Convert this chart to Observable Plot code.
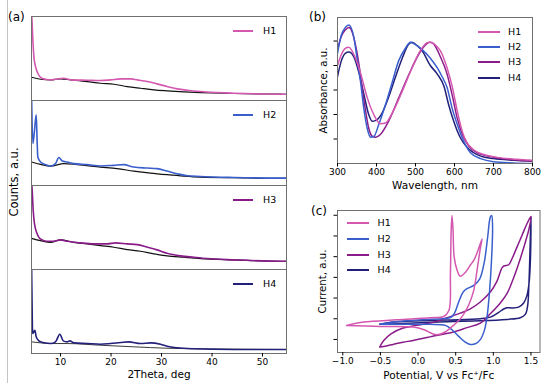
<!DOCTYPE html>
<html><head><meta charset="utf-8">
<script src="https://cdn.jsdelivr.net/npm/d3@7"></script>
<script src="https://cdn.jsdelivr.net/npm/@observablehq/plot@0.6"></script>
<style>
body{margin:0;background:#fff;}
#root{position:relative;width:550px;height:392px;overflow:hidden;font-family:"DejaVu Sans",sans-serif;color:#000;}
.abs{position:absolute;}
.txt{position:absolute;white-space:nowrap;line-height:1;}
</style></head><body><div id="root"></div>
<script>
// ---------- names ----------
const series = ["H1", "H2", "H3", "H4"];

// ---------- (a) XRD: [2theta (deg), counts (a.u.)] ----------
const xrdTicks = [10, 20, 30, 40, 50];
const xrdH1 = [[4.26,90],[4.52,60.7],[4.72,44],[5.05,34],[5.5,27.3],[6.04,23.3],[7.03,21.3],[8.02,20.7],[9.0,21.3],[10.0,22],[10.6,22.3],[12,20.7],[15.3,20.3],[17.9,20],[19.9,20.7],[21.9,21.7],[23.9,21.7],[25.2,20.7],[27.2,19],[29.1,16.7],[31.1,14],[33.1,11.7],[35.1,10.3],[37.7,9],[41,8],[44.3,7.3],[48.3,6.7],[53.6,6.3],[54.75,6.2]];
const xrdH1ref = [[4.26,23.3],[6.04,21.3],[8.02,20.7],[10,21.7],[12,20.7],[15.3,19],[17.9,17.3],[20.56,16.3],[23.2,14],[25.84,12.3],[28.5,10.7],[31.1,9.7],[34.4,8.7],[37.7,8],[44.3,7],[53.6,6.3],[54.75,6.2]];
const xrdH2 = [[4.26,90],[4.52,41.7],[4.79,51.7],[5.18,70],[5.38,41.7],[5.5,28.3],[6.04,23.3],[7.03,20.7],[8.02,19.3],[9.0,21.7],[9.67,27.7],[10.33,24.3],[11.32,23.3],[12.64,21.7],[15.3,20.7],[17.9,19.3],[20.56,20],[22.5,20.7],[24.5,18.3],[27.2,17.3],[29.1,16.7],[31.1,14.3],[33.1,11.7],[35.1,9.7],[37.7,9],[44.3,8],[53.6,7.3],[54.75,7.3]];
const xrdH2ref = [[4.26,23.3],[6.04,21],[8.02,19.3],[10.66,21.7],[13.3,20.7],[17.9,18.3],[21.2,16.7],[24.5,14.3],[27.8,12.3],[31.1,10.7],[34.4,9.3],[37.7,8.3],[44.3,7.7],[53.6,7],[54.75,7]];
const xrdH3 = [[4.26,90],[4.39,79],[4.59,59],[4.85,45.7],[5.25,37.3],[5.71,32.3],[6.37,29.7],[7.36,28.3],[8.68,28.3],[10,29.7],[11.32,28.3],[13.96,26.7],[16.6,25.7],[19.24,25.7],[20.9,26.7],[23.2,25.7],[25.2,25],[27.2,22.3],[29.1,19.7],[31.1,16.3],[33.8,13.7],[36.4,12.3],[39.05,11],[44.3,9.7],[53.6,8.3],[54.75,8.3]];
const xrdH3ref = [[4.26,31.3],[6.04,29],[8.02,27.3],[10,29.7],[12.64,27.3],[15.3,25.7],[17.9,24],[20.56,22.3],[23.2,20],[25.84,18.3],[28.5,15.7],[31.1,13.7],[34.4,12.3],[37.7,11],[44.3,9.7],[53.6,8.3],[54.75,8.3]];
const xrdH4 = [[4.26,90],[4.39,40],[4.46,20],[4.72,21.7],[4.92,23.3],[5.18,16.7],[5.71,12.7],[6.7,10.7],[8.02,10],[9.0,11.7],[9.87,19.3],[10.53,12.7],[11.32,11.7],[11.85,12.7],[12.64,10.7],[15.3,10],[17.9,9.3],[19.9,10],[21.9,11],[23.5,11.7],[25.84,10],[27.8,10.7],[29.8,9.3],[31.1,7.3],[33.1,5.7],[36.4,4.7],[44.3,4],[53.6,4],[54.75,4]];
const xrdH4ref = [[4.26,11.7],[6.04,10.7],[8.02,10],[11.32,10],[17.9,8.3],[24.5,6.7],[31.1,5.3],[37.7,4.7],[54.75,4]];

// ---------- (b) UV-vis: [wavelength (nm), absorbance (a.u.)] ----------
const uvTicks = [300, 400, 500, 600, 700, 800];
const uvYTicks = [0.2, 0.4, 0.6, 0.8, 1.0];
const uvH1 = [[300,0.80],[310,0.89],[320,0.94],[329,0.95],[346,0.86],[359,0.74],[376,0.54],[393,0.40],[410,0.325],[423,0.33],[440,0.41],[466,0.59],[491,0.78],[512,0.92],[529,0.985],[538,0.99],[550,0.97],[564,0.92],[581,0.78],[594,0.63],[607,0.43],[620,0.26],[632,0.17],[650,0.11],[675,0.073],[709,0.05],[760,0.035],[800,0.027]];
const uvH2 = [[300,0.90],[310,1.05],[320,1.11],[329,1.13],[342,1.03],[350,0.86],[359,0.67],[367,0.46],[376,0.29],[385,0.215],[393,0.22],[406,0.32],[423,0.48],[440,0.66],[457,0.84],[474,0.94],[487,0.99],[500,0.97],[517,0.93],[538,0.86],[556,0.78],[568,0.71],[581,0.62],[594,0.45],[607,0.32],[624,0.18],[641,0.087],[667,0.04],[700,0.015],[750,0.005],[800,0.0]];
const uvH3 = [[300,0.93],[310,1.04],[320,1.09],[329,1.11],[338,1.07],[346,0.97],[355,0.81],[363,0.62],[372,0.43],[380,0.29],[390,0.22],[398,0.215],[410,0.237],[431,0.345],[457,0.536],[483,0.727],[508,0.89],[526,0.97],[536,0.99],[545,0.98],[564,0.87],[581,0.73],[594,0.56],[607,0.37],[620,0.24],[637,0.14],[658,0.087],[709,0.047],[800,0.02]];
const uvH4 = [[300,0.71],[310,0.84],[320,0.90],[329,0.91],[342,0.87],[355,0.74],[368,0.56],[380,0.40],[389,0.345],[397,0.35],[414,0.41],[431,0.54],[448,0.70],[466,0.86],[483,0.975],[491,0.99],[505,0.96],[517,0.92],[538,0.80],[556,0.73],[573,0.63],[585,0.48],[598,0.345],[615,0.21],[633,0.13],[667,0.06],[700,0.04],[752,0.027],[800,0.02]];

// ---------- (c) CV: [potential (V vs Fc+/Fc), current (a.u.)] ----------
const cvTicks = [-1.0, -0.5, 0.0, 0.5, 1.0, 1.5];
const cvYTicks = [-1, 0, 1, 2, 3, 4, 5];
const cvH1 = [[-0.95,-0.32],[-0.72,-0.16],[-0.28,-0.05],[0.16,0.05],[0.34,0.11],[0.41,0.40],[0.43,2.17],[0.44,4.27],[0.451,4.99],[0.465,4.27],[0.48,2.98],[0.52,2.33],[0.56,2.06],[0.63,2.25],[0.70,2.62],[0.74,2.82],[0.78,3.14],[0.85,3.86],[0.83,3.46],[0.79,2.5],[0.74,1.37],[0.67,0.64],[0.58,0.08],[0.47,-0.32],[0.36,-0.64],[0.25,-0.77],[0.19,-0.72],[0.08,-0.53],[-0.06,-0.40],[-0.5,-0.37],[-0.95,-0.32]];
const cvH2 = [[-0.51,-0.27],[-0.28,-0.13],[0.16,-0.02],[0.43,0.06],[0.48,0.24],[0.54,0.81],[0.60,1.29],[0.65,1.45],[0.74,1.61],[0.82,1.93],[0.88,2.74],[0.925,3.95],[0.96,4.91],[0.978,4.99],[0.99,4.43],[0.978,2.98],[0.951,1.37],[0.916,0.08],[0.881,-0.56],[0.827,-1.01],[0.761,-1.21],[0.695,-1.24],[0.628,-1.13],[0.54,-0.85],[0.451,-0.53],[0.363,-0.32],[0.164,-0.27],[-0.146,-0.27],[-0.51,-0.27]];
const cvH3 = [[-0.509,-1.37],[-0.456,-1.05],[-0.354,-0.72],[-0.199,-0.45],[-0.022,-0.32],[0.243,-0.13],[0.385,0.05],[0.562,0.27],[0.695,0.48],[0.827,0.81],[0.96,1.29],[1.049,1.82],[1.115,2.46],[1.146,2.56],[1.204,2.61],[1.248,2.90],[1.314,3.46],[1.381,4.03],[1.447,4.59],[1.5,4.94],[1.469,4.27],[1.425,3.70],[1.358,2.90],[1.27,1.98],[1.181,1.21],[1.093,0.76],[0.96,0.24],[0.827,-0.21],[0.65,-0.43],[0.473,-0.64],[0.243,-0.81],[-0.066,-1.05],[-0.199,-1.13],[-0.332,-1.24],[-0.456,-1.34],[-0.509,-1.37]];
const cvH4 = [[-0.509,-0.27],[-0.058,-0.21],[0.385,-0.14],[0.827,-0.10],[1.181,-0.03],[1.358,0.05],[1.425,0.21],[1.456,0.64],[1.473,1.69],[1.487,3.30],[1.5,4.94],[1.496,3.30],[1.478,1.85],[1.447,1.13],[1.403,0.76],[1.336,0.56],[1.248,0.52],[1.181,0.53],[1.137,0.47],[1.071,0.31],[0.96,0.08],[0.827,0.0],[0.385,-0.06],[-0.058,-0.11],[-0.323,-0.16],[-0.509,-0.27]];

// ---------- styles ----------
const colors = ["#d458b0", "#3a5fcd", "#8a1c8a", "#23207a"];
const frameColor = "#707070";
const baseStyle = {fontFamily: "DejaVu Sans", fontSize: "9px", color: "#000", background: "transparent", overflow: "visible"};
const root = document.getElementById("root");

function put(el, left, top) { el.style.position = "absolute"; el.style.left = left + "px"; el.style.top = top + "px"; root.appendChild(el); }
function text(str, left, top, size, rotate) {
  const d = document.createElement("div"); d.className = "txt"; d.textContent = str;
  d.style.fontSize = size + "px"; d.style.left = left + "px"; d.style.top = top + "px";
  d.style.transform = rotate ? "translate(-50%,-50%) rotate(-90deg)" : "translate(0,-50%)";
  root.appendChild(d); return d;
}
function swatch(x, y, w, color) {
  const sw = document.createElement("div");
  sw.className = "abs"; sw.style.left = Math.round(x) + "px"; sw.style.top = Math.round(y - 1) + "px";
  sw.style.width = w + "px"; sw.style.height = "2px"; sw.style.background = color;
  root.appendChild(sw);
}
function legend(x, ys, lineW, gap, fs) {
  series.forEach((s, k) => { swatch(x, ys[k], lineW, colors[k]); text(s, x + lineW + gap, ys[k], fs, false); });
}
const ln = (arr, stroke, w, curve) => Plot.line(arr, {x: d => d[0], y: d => d[1], stroke, strokeWidth: w, curve, clip: true});

// ---------- (a) ----------
const xrdMain = [xrdH1, xrdH2, xrdH3, xrdH4];
const xrdRef = [xrdH1ref, xrdH2ref, xrdH3ref, xrdH4ref];
const xrdTops = [16, 100, 185, 269, 353];
for (let i = 0; i < 4; i++) {
  const T = xrdTops[i], B = xrdTops[i + 1], last = i === 3;
  const mb = last ? 38 : 1;
  const marks = [
    ln(xrdRef[i], last ? "#3a3a3a" : "#111", last ? 1.0 : 1.2, "monotone-x"),
    ln(xrdMain[i], colors[i], 1.6, "monotone-x"),
    Plot.frame({stroke: frameColor})
  ];
  if (last) {
    marks.push(Plot.axisX({ticks: xrdTicks, tickSize: 3.5, tickPadding: 2, label: null, fontSize: 9}));
    marks.push(Plot.text(["2Theta, deg"], {frameAnchor: "bottom", dy: 21, lineAnchor: "middle", textAnchor: "middle", fontSize: 10.5, text: d => d}));
  }
  const svg = Plot.plot({
    width: 300, height: (B - T) + 1 + mb,
    marginLeft: 31, marginRight: 14, marginTop: 1, marginBottom: mb,
    x: last ? {domain: [4.25, 54.75]} : {domain: [4.25, 54.75], axis: null},
    y: {domain: [0, 84.3], axis: null},
    style: baseStyle, marks
  });
  put(svg, 0, T - 1);
  swatch(233, T + 14.5, 20, colors[i]);
  text(series[i], 263, T + 14.5, 9.5, false);
}
text("Counts, a.u.", 15, 182, 11.5, true);

// ---------- (b) ----------
{
  const svg = Plot.plot({
    width: 250, height: 200, marginLeft: 37, marginRight: 18, marginTop: 17, marginBottom: 37,
    x: {domain: [300, 800]}, y: {domain: [0, 1.192]},
    style: baseStyle,
    marks: [
      ...[uvH4, uvH3, uvH2, uvH1].map((a, j) => ln(a, colors[3 - j], 1.5, "monotone-x")),
      Plot.frame({stroke: frameColor}),
      Plot.axisX({ticks: uvTicks, tickSize: 3.5, tickPadding: 2, label: null, fontSize: 9}),
      Plot.axisY({ticks: uvYTicks, tickSize: 3.5, tickFormat: () => "", label: null}),
      Plot.text(["Wavelength, nm"], {frameAnchor: "bottom", dy: 22, lineAnchor: "middle", textAnchor: "middle", fontSize: 10.5, text: d => d}),
      Plot.text(["Absorbance, a.u."], {frameAnchor: "left", dx: -14, rotate: -90, textAnchor: "middle", lineAnchor: "middle", fontSize: 10.2, text: d => d})
    ]
  });
  put(svg, 300, 0);
}
legend(478, [31.7, 46.9, 62.3, 77.7], 22, 8, 9.5);

// ---------- (c) ----------
{
  const svg = Plot.plot({
    width: 250, height: 190, marginLeft: 37, marginRight: 10.5, marginTop: 10, marginBottom: 38,
    x: {domain: [-1.07, 1.62]}, y: {domain: [-1.63, 5.23]},
    style: baseStyle,
    marks: [
      ...[cvH4, cvH3, cvH2, cvH1].map((a, j) => ln(a, colors[3 - j], 1.5, "catmull-rom")),
      Plot.frame({stroke: frameColor}),
      Plot.axisX({ticks: cvTicks, tickSize: 3.5, tickPadding: 2, label: null, fontSize: 9, tickFormat: d3.format(".1f")}),
      Plot.axisY({ticks: cvYTicks, tickSize: 3.5, tickFormat: () => "", label: null}),
      Plot.text(["Potential, V vs Fc\u207A/Fc"], {frameAnchor: "bottom", dy: 23, lineAnchor: "middle", textAnchor: "middle", fontSize: 10.5, text: d => d}),
      Plot.text(["Current, a.u."], {frameAnchor: "left", dx: -15, rotate: -90, textAnchor: "middle", lineAnchor: "middle", fontSize: 10.2, text: d => d})
    ]
  });
  put(svg, 300, 200);
}
legend(347, [223.3, 239, 254.5, 270], 21.5, 9, 9.5);

// ---------- panel tags ----------
text("(a)", 8, 17, 12, false);
text("(b)", 309, 16.5, 12, false);
text("(c)", 311, 211, 12, false);

// separator line at far left
{
  const l = document.createElement("div");
  l.className = "abs"; l.style.left = "7px"; l.style.top = "0px"; l.style.width = "1px"; l.style.height = "383px"; l.style.background = "#c4c4c4";
  root.appendChild(l);
}
</script></body></html>
